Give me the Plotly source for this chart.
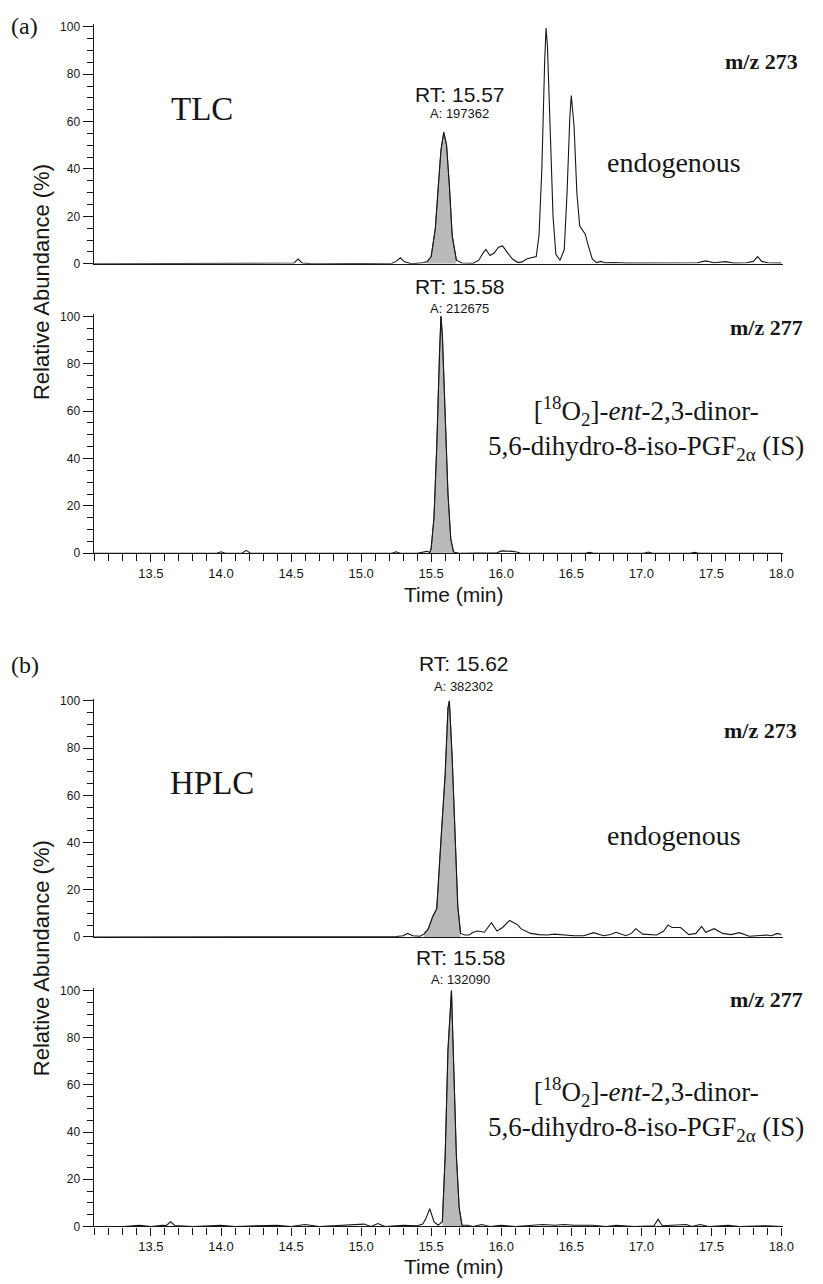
import plotly.graph_objects as go

# ---------------- data ----------------
# Panel (a) TLC, m/z 273
a273_t = [13.09, 13.30, 13.60, 13.90, 14.20, 14.45, 14.52, 14.55, 14.58, 14.65, 14.90, 15.10,
          15.22, 15.25, 15.28, 15.31, 15.36, 15.44, 15.47, 15.50, 15.53, 15.55, 15.57, 15.59,
          15.61, 15.63, 15.65, 15.68, 15.72, 15.80, 15.84, 15.87, 15.89, 15.92, 15.95, 15.98,
          16.01, 16.04, 16.08, 16.12, 16.15, 16.18, 16.22, 16.25, 16.27, 16.29, 16.31, 16.32,
          16.33, 16.35, 16.37, 16.39, 16.42, 16.45, 16.47, 16.49, 16.50, 16.52, 16.54, 16.56,
          16.58, 16.60, 16.62, 16.65, 16.68, 16.71, 16.74, 16.80, 16.90, 17.00, 17.10, 17.20,
          17.30, 17.40, 17.46, 17.52, 17.60, 17.66, 17.75, 17.80, 17.83, 17.86, 17.90, 18.00]
a273_v = [0, 0, 0, 0, 0, 0, 0.3, 2.0, 0.3, 0, 0, 0,
          0.2, 1.0, 2.5, 0.8, 0, 0.4, 0.8, 3, 15, 32, 48, 55.5,
          50, 33, 12, 1.5, 0.3, 0.2, 1.5, 4.5, 6, 3.5, 4.5, 7,
          7.5, 5, 2, 0.5, 0.8, 2.0, 2.5, 3, 12, 40, 85, 99.5,
          92, 55, 20, 4, 1.5, 6, 30, 62, 71, 58, 30, 16,
          14, 12.5, 8, 2, 0.5, 1.0, 0.4, 0.5, 0.3, 0.3, 0.3, 0.5,
          0.6, 0.4, 1.2, 0.4, 0.9, 0.3, 0.4, 1.0, 3, 1.0, 0.4, 0.3]
a273_fill = [15.47, 15.68]

# Panel (a) TLC, m/z 277
a277_t = [13.09, 13.40, 13.70, 13.97, 14.00, 14.03, 14.15, 14.18, 14.21, 14.50, 14.90, 15.22,
          15.25, 15.28, 15.40, 15.47, 15.49, 15.50, 15.52, 15.54, 15.56, 15.57, 15.58, 15.60,
          15.62, 15.64, 15.66, 15.70, 15.85, 15.97, 16.00, 16.04, 16.08, 16.11, 16.14, 16.40,
          16.60, 16.63, 16.66, 17.02, 17.05, 17.08, 17.35, 17.38, 17.41, 17.70, 18.00]
a277_v = [0, 0, 0, 0, 0.6, 0, 0, 1.2, 0, 0, 0, 0,
          0.6, 0, 0, 0.8, 0.3, 2, 15, 45, 85, 100, 92, 60,
          25, 6, 0.5, 0, 0, 0.2, 1.0, 1.0, 0.8, 0.5, 0, 0,
          0, 0.4, 0, 0, 0.5, 0, 0, 0.4, 0, 0, 0]
a277_fill = [15.49, 15.66]

# Panel (b) HPLC, m/z 273
b273_t = [13.09, 13.50, 14.00, 14.50, 15.00, 15.25, 15.30, 15.33, 15.37, 15.42, 15.45, 15.48,
          15.51, 15.54, 15.57, 15.60, 15.62, 15.63, 15.65, 15.67, 15.69, 15.71, 15.74, 15.77,
          15.80, 15.83, 15.88, 15.93, 15.97, 16.01, 16.06, 16.09, 16.12, 16.14, 16.18, 16.21,
          16.27, 16.33, 16.38, 16.42, 16.47, 16.52, 16.59, 16.66, 16.73, 16.78, 16.82, 16.89,
          16.93, 16.96, 17.01, 17.06, 17.11, 17.16, 17.19, 17.22, 17.24, 17.28, 17.34, 17.39,
          17.43, 17.46, 17.52, 17.58, 17.64, 17.70, 17.77, 17.84, 17.89, 17.93, 17.97, 18.00]
b273_v = [0, 0, 0, 0, 0, 0.2, 0.5, 1.5, 0.5, 0.3, 1.3, 3.5,
          8.5, 12, 41, 69, 97, 100, 76, 41, 13, 1.5, 0.8, 0.8,
          2, 2.5, 2, 6, 2.5, 4, 7, 6, 5, 3.5, 2.5, 1.5,
          1.0, 0.8, 1.2, 1.0, 0.7, 0.5, 0.5, 1.8, 0.5, 1.0, 2, 0.5,
          1.5, 3.5, 1.2, 1.0, 0.8, 2.5, 5, 4, 4, 4, 1.0, 1.5,
          4.5, 2, 3.5, 1.5, 1.0, 1.8, 0.3, 0.5, 0.8, 0.5, 1.5, 1.0]
b273_fill = [15.45, 15.71]

# Panel (b) HPLC, m/z 277
b277_t = [13.09, 13.30, 13.42, 13.50, 13.58, 13.61, 13.64, 13.67, 13.80, 14.00, 14.10, 14.40,
          14.50, 14.60, 14.70, 15.02, 15.07, 15.12, 15.17, 15.30, 15.40, 15.44, 15.46, 15.49,
          15.52, 15.55, 15.58, 15.60, 15.62, 15.64, 15.645, 15.66, 15.68, 15.70, 15.72, 15.76,
          15.80, 15.86, 15.92, 16.00, 16.10, 16.30, 16.38, 16.45, 16.52, 16.65, 16.75, 16.82,
          16.95, 17.09, 17.12, 17.15, 17.32, 17.36, 17.42, 17.48, 17.62, 17.70, 17.80, 17.90, 18.00]
b277_v = [0, 0, 0.5, 0, 0.5, 0.4, 2, 0.4, 0, 0.5, 0, 0.5,
          0, 0.8, 0, 1.0, 0, 1.2, 0, 0.5, 0.3, 1.0, 3, 7.5,
          2, 0.5, 2, 30, 75, 98, 100, 70, 30, 8, 0.5, 0.5,
          0, 0.8, 0, 0.5, 0, 0.8, 0.5, 0.8, 0.5, 0.5, 0, 0.5,
          0, 0.3, 3, 0.3, 0.8, 0, 0.8, 0, 0.5, 0, 0.3, 0.3, 0]
b277_fill = [15.57, 15.72]

rt_labels = ["RT: 15.57", "RT: 15.58", "RT: 15.62", "RT: 15.58"]
area_labels = ["A: 197362", "A: 212675", "A: 382302", "A: 132090"]
mz_labels = ["m/z 273", "m/z 277", "m/z 273", "m/z 277"]
x_tick_vals = [13.5, 14.0, 14.5, 15.0, 15.5, 16.0, 16.5, 17.0, 17.5, 18.0]
y_tick_vals = [0, 20, 40, 60, 80, 100]

# ---------------- layout helpers ----------------
W, H = 823, 1284
SANS = "Liberation Sans"
SERIF = "Liberation Serif"
INK = "#161616"


def px(x, y):
    return x / W, 1 - y / H


T0, PX0, PPM = 15.0, 366.0, 142.0
X_RANGE = [13.09, 18.01]
xdom = [(PX0 + (X_RANGE[0] - T0) * PPM) / W, (PX0 + (X_RANGE[1] - T0) * PPM) / W]
Y_MAX = 101.0
panel_px = [(262, 23), (554, 315), (941, 703), (1233, 995)]  # (y of 0, y of 100)


def ydom(y0, y100):
    top = y0 - Y_MAX * (y0 - y100) / 100.0
    return [1 - y0 / H, 1 - top / H]


series = [(a273_t, a273_v, a273_fill), (a277_t, a277_v, a277_fill),
          (b273_t, b273_v, b273_fill), (b277_t, b277_v, b277_fill)]

fig = go.Figure()
layout = dict(width=W, height=H, margin=dict(l=0, r=0, t=0, b=0),
              paper_bgcolor="white", plot_bgcolor="white", showlegend=False,
              font=dict(family=SANS, color=INK))

for i, ((t, v, (lo, hi)), (y0, y100)) in enumerate(zip(series, panel_px)):
    k = "" if i == 0 else str(i + 1)
    ft = [a for a in t if lo <= a <= hi]
    fv = [b for a, b in zip(t, v) if lo <= a <= hi]
    fig.add_trace(go.Scatter(x=ft, y=fv, xaxis="x" + k, yaxis="y" + k, mode="lines",
                             fill="tozeroy", fillcolor="#b9b9b9",
                             line=dict(color="#4a4a4a", width=1), hoverinfo="skip"))
    fig.add_trace(go.Scatter(x=t, y=v, xaxis="x" + k, yaxis="y" + k, mode="lines",
                             line=dict(color=INK, width=1.1), hoverinfo="skip"))
    bottom = i in (1, 3)
    xa = dict(domain=xdom, range=X_RANGE, anchor="y" + k, showgrid=False, zeroline=False,
              showline=True, linecolor=INK, linewidth=1.3)
    if bottom:
        xa.update(tickvals=x_tick_vals, ticktext=[f"{v:.1f}" for v in x_tick_vals],
                  ticks="outside", ticklen=8, tickwidth=1, tickcolor=INK,
                  minor=dict(dtick=0.1, tick0=13.0, ticks="outside", ticklen=7,
                             tickcolor=INK, showgrid=False),
                  tickfont=dict(family=SANS, size=13, color=INK))
    else:
        xa.update(showticklabels=False, ticks="", tickvals=[])
    ya = dict(domain=ydom(y0, y100), range=[0, Y_MAX], anchor="x" + k, showgrid=False,
              zeroline=False, showline=True, linecolor=INK, linewidth=1,
              tickvals=y_tick_vals, ticks="outside", ticklen=10, tickwidth=1, tickcolor=INK,
              minor=dict(dtick=5, tick0=0, ticks="outside", ticklen=6, tickcolor=INK,
                         showgrid=False),
              tickfont=dict(family=SANS, size=12, color=INK))
    layout["xaxis" + k] = xa
    layout["yaxis" + k] = ya

fig.update_layout(**layout)


def note(text, x, y, family, size, **kw):
    ax, ay = px(x, y)
    fig.add_annotation(text=text, x=ax, y=ay, xref="paper", yref="paper", showarrow=False,
                       xanchor=kw.pop("xanchor", "center"), yanchor="middle",
                       font=dict(family=family, size=size, color=INK), **kw)


# panel letters and method names
note("(a)", 25, 22, SERIF, 24)
note("(b)", 25, 667, SERIF, 24)
note("TLC", 205, 106, SERIF, 33)
note("HPLC", 215, 786, SERIF, 33)

# RT / area labels
rt_pos = [(466, 91, 110), (466, 285, 307), (470, 665, 688), (467, 962, 984)]
for s, a, (x, yr, ya_) in zip(rt_labels, area_labels, rt_pos):
    note(s, x, yr, SANS, 21)
    note(a, x, ya_, SANS, 13)

# m/z labels
mz_pos = [(772, 58), (777, 326), (771, 733), (777, 1004)]
for s, (x, y) in zip(mz_labels, mz_pos):
    note("<b>" + s + "</b>", x, y, SERIF, 22)

# endogenous / internal standard
note("endogenous", 683, 160, SERIF, 28)
note("endogenous", 683, 839, SERIF, 28)
is_text = ("[<sup>18</sup>O<sub>2</sub>]-<i>ent</i>-2,3-dinor-<br>"
           "5,6-dihydro-8-iso-PGF<sub>2\u03b1</sub> (IS)")
note(is_text, 655, 428, SERIF, 27, align="center")
note(is_text, 655, 1115, SERIF, 27, align="center")

# axis titles
for y in (280, 962):
    note("Relative Abundance (%)", 42, y, SANS, 22, textangle=-90)
note("Time (min)", 460, 596, SANS, 21)
note("Time (min)", 460, 1273, SANS, 21)

fig.write_html("out.html")
